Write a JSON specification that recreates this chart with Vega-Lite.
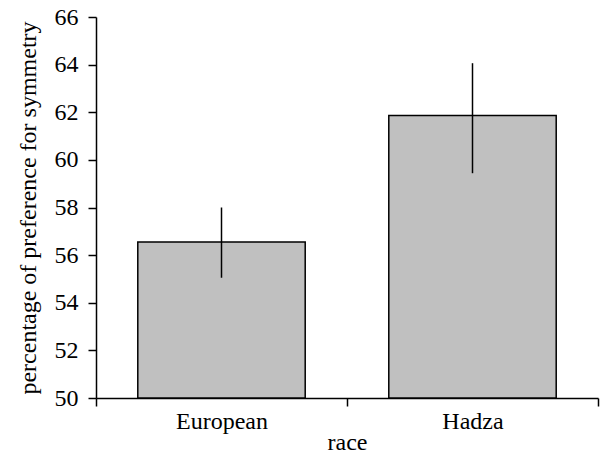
{
  "$schema": "https://vega.github.io/schema/vega-lite/v6.json",
  "width": 502,
  "height": 381,
  "autosize": "none",
  "padding": {"left": 96, "top": 17, "right": 7, "bottom": 56},
  "background": "white",
  "config": {
    "view": {"stroke": null},
    "font": "Liberation Serif",
    "axis": {
      "labelFont": "Liberation Serif",
      "titleFont": "Liberation Serif",
      "labelFontSize": 24,
      "titleFontSize": 24,
      "titleFontWeight": "normal",
      "labelColor": "black",
      "titleColor": "black",
      "domainColor": "black",
      "tickColor": "black",
      "domainWidth": 1.5,
      "tickWidth": 1.5,
      "tickSize": 8,
      "grid": false
    }
  },
  "data": {
    "values": [
      {"race": "European", "pct": 56.55, "low": 55.05, "high": 58.0},
      {"race": "Hadza", "pct": 61.86, "low": 59.44, "high": 64.06}
    ]
  },
  "encoding": {
    "x": {
      "field": "race",
      "type": "nominal",
      "sort": null,
      "scale": {"paddingInner": 0, "paddingOuter": 0},
      "axis": {"labelAngle": 0, "tickBand": "extent", "labelPadding": 3, "titlePadding": -3, "title": "race"}
    }
  },
  "layer": [
    {
      "mark": {"type": "bar", "fill": "#c0c0c0", "stroke": "black", "strokeWidth": 1.5, "width": {"band": 0.667}},
      "encoding": {
        "y": {
          "field": "pct",
          "type": "quantitative",
          "scale": {"domain": [50, 66], "zero": false, "nice": false},
          "axis": {"values": [50, 52, 54, 56, 58, 60, 62, 64, 66], "labelPadding": 10, "titlePadding": 14, "title": "percentage of preference for symmetry"}
        },
        "y2": {"datum": 50}
      }
    },
    {
      "mark": {"type": "rule", "color": "black", "strokeWidth": 1.5},
      "encoding": {
        "y": {"field": "low", "type": "quantitative"},
        "y2": {"field": "high"}
      }
    }
  ]
}
